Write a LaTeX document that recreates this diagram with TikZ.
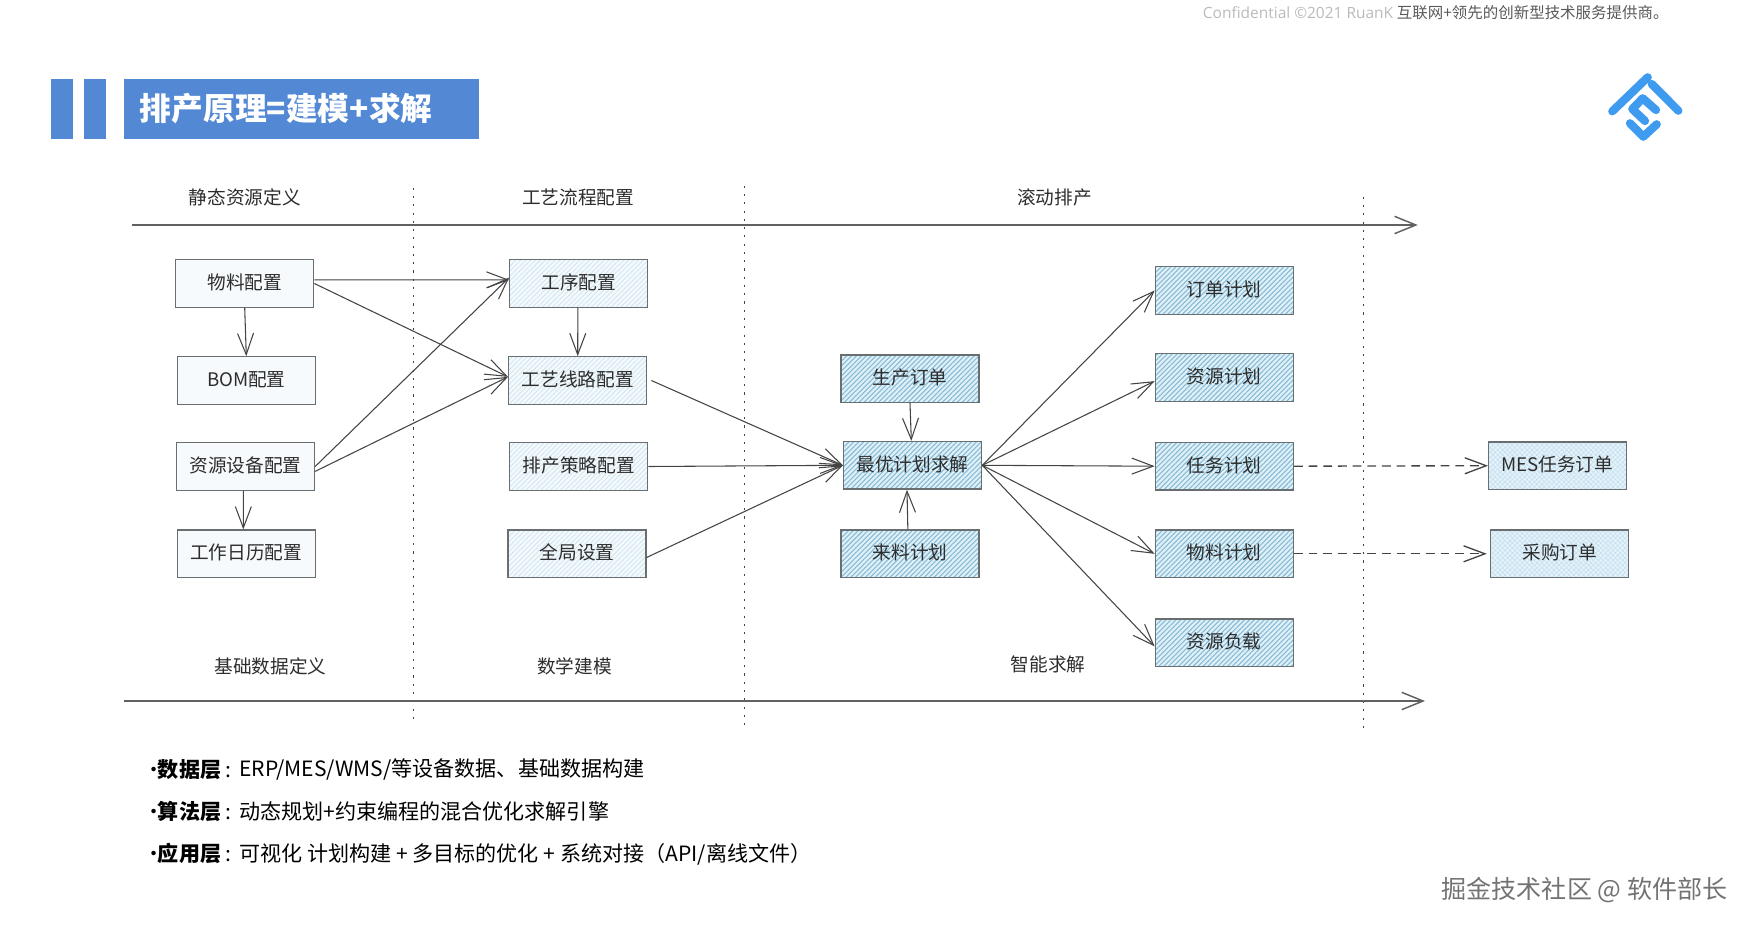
\documentclass[tikz,border=0pt]{standalone}
\usepackage{fontspec}
\setmainfont{Noto Sans CJK SC}
\newfontfamily\latinfont{Open Sans}
\usetikzlibrary{arrows.meta,patterns.meta}

\definecolor{barblue}{RGB}{82,136,212}
\definecolor{logoblue}{RGB}{62,155,240}
\definecolor{boxedge}{RGB}{105,110,112}
\definecolor{inkgrey}{RGB}{68,68,68}
\definecolor{textgrey}{RGB}{45,45,45}

\tikzset{
  cfgbox/.style={draw=boxedge,line width=1pt,minimum width=103.5pt,minimum height=35.6pt,inner sep=0pt,
    text height=12pt,text depth=3.2pt,text=textgrey,font=\fontsize{14}{16}\selectfont},
  plainbox/.style={cfgbox,fill={rgb,255:red,246;green,250;blue,252}},
  lighthatch/.style={cfgbox,preaction={fill={rgb,255:red,243;green,249;blue,252}},
    pattern={Lines[angle=45,distance=2.6pt,line width=0.6pt]},pattern color={rgb,255:red,210;green,229;blue,238}},
  darkhatch/.style={cfgbox,preaction={fill={rgb,255:red,222;green,240;blue,248}},
    pattern={Lines[angle=45,distance=2.6pt,line width=0.8pt]},pattern color={rgb,255:red,135;green,185;blue,212}},
  crosshatch/.style={cfgbox,preaction={fill={rgb,255:red,228;green,243;blue,251}},
    pattern={Hatch[angle=45,distance=2.6pt,line width=0.4pt]},pattern color={rgb,255:red,196;green,222;blue,236}},
  stagelabel/.style={text=textgrey,inner sep=0pt,font=\fontsize{14}{16}\selectfont},
  layerlabel/.style={anchor=west,inner sep=0pt,text=black,font=\fontsize{15.8}{18}\selectfont},
  flowarrow/.style={draw=inkgrey,line width=0.8pt,-{Straight Barb[length=16pt,width=12pt]}},
  dasharrow/.style={flowarrow,line width=1pt,dash pattern={on 6.6pt off 4.4pt}},
  axisarrow/.style={draw=black!62,line width=1.1pt,-{Straight Barb[length=16pt,width=13pt]}},
  dotline/.style={draw=inkgrey,line width=0.8pt,dash pattern={on 1.6pt off 4.6pt}},
  logostroke/.style={draw=logoblue,line width=6.2pt,line cap=round,line join=round}
}

\begin{document}
\begin{tikzpicture}[x=0.75pt,y=0.75pt,yscale=-1,xscale=1]
                  \useasboundingbox (0,0) rectangle (1752,928);

                  %Shape: Title bars
                  \fill [barblue] (50.8,79) rectangle (72.6,139.3);
                  \fill [barblue] (83.8,79) rectangle (106,139.3);
                  \node [anchor=west,fill=barblue,minimum width=266pt,minimum height=45.2pt,inner sep=0pt] (banner) at (124,109.2) {};
                  % Text Node
                  \node [anchor=west,inner sep=0pt,text=white,font=\fontsize{23.8}{26}\selectfont\bfseries] (title) at (139.7,108.6) {排产原理=建模+求解};

                  % Text Node
                  \node [anchor=west,inner sep=0pt,text=black!27,font=\fontsize{11.6}{14}\selectfont\latinfont] (confid) at (1202.7,12.7) {Confidential ©2021 RuanK};
                  % Text Node
                  \node [anchor=west,inner sep=0pt,text=black!65,font=\fontsize{11.6}{14}\selectfont] (slogan) at (1396.7,12.7) {互联网+领先的创新型技术服务提供商。};

                  %Shape: Logo
                  \draw [logostroke] (1612.3,111.3) -- (1647.7,77.3);
                  \draw [logostroke] (1651.7,84) -- (1678.3,110.7);
                  \draw [logostroke] (1656,110) -- (1642.7,98.3) -- (1632.3,109) -- (1645,121);
                  \draw [logostroke] (1630,123.3) -- (1643.3,136.7) -- (1656.7,124.3);

                  %Straight Lines: stage separators
                  \coordinate (septop1) at (413.4,187.7);
                  \coordinate (sepbot1) at (413.4,720.7);
                  \coordinate (septop2) at (744.7,185.7);
                  \coordinate (sepbot2) at (744.7,727);
                  \coordinate (septop3) at (1363,196.7);
                  \coordinate (sepbot3) at (1363,729.7);
                  \draw [dotline] (septop1) -- (sepbot1);
                  \draw [dotline] (septop2) -- (sepbot2);
                  \draw [dotline,line width=0.6pt] (septop3) -- (sepbot3);

                  %Straight Lines: axes
                  \coordinate (axistopa) at (132,225);
                  \coordinate (axistopb) at (1417.8,225);
                  \coordinate (axisbota) at (124,701);
                  \coordinate (axisbotb) at (1425,701);
                  \draw [axisarrow] (axistopa) -- (axistopb);
                  \draw [axisarrow] (axisbota) -- (axisbotb);

                  % Text Node
                  \node [stagelabel] (stagea) at (244.8,197.8) {静态资源定义};
                  \node [stagelabel] (stageb) at (578,197.8) {工艺流程配置};
                  \node [stagelabel] (stagec) at (1054.6,197.8) {滚动排产};
                  \node [stagelabel] (staged) at (270.6,666) {基础数据定义};
                  \node [stagelabel] (stagee) at (574.6,666) {数学建模};
                  \node [stagelabel] (stagef) at (1048,664.7) {智能求解};

                  %Shape: Resource boxes
                  \node [plainbox] (material) at (244.7,283.5) {物料配置};
                  \node [plainbox] (bom) at (246.3,380.5) {BOM配置};
                  \node [plainbox] (device) at (245.5,466.5) {资源设备配置};
                  \node [plainbox] (calendar) at (246.3,553.8) {工作日历配置};
                  %Shape: Process boxes
                  \node [lighthatch] (oper) at (578.7,283.5) {工序配置};
                  \node [lighthatch] (route) at (577.7,380.5) {工艺线路配置};
                  \node [lighthatch] (policy) at (578.7,466.5) {排产策略配置};
                  \node [lighthatch] (globalset) at (577,553.8) {全局设置};
                  %Shape: Solver boxes
                  \node [darkhatch] (prodorder) at (910,378.8) {生产订单};
                  \node [darkhatch] (solver) at (912.6,465.3) {最优计划求解};
                  \node [darkhatch] (incoming) at (910,553.8) {来料计划};
                  %Shape: Plan boxes
                  \node [darkhatch] (orderplan) at (1224.3,290.5) {订单计划};
                  \node [darkhatch] (resplan) at (1224.3,377.5) {资源计划};
                  \node [darkhatch] (taskplan) at (1224.3,466.2) {任务计划};
                  \node [darkhatch] (matplan) at (1224.3,553.8) {物料计划};
                  \node [darkhatch] (resload) at (1224.3,642.7) {资源负载};
                  %Shape: Output boxes
                  \node [crosshatch] (mesorder) at (1557.3,465.7) {MES任务订单};
                  \node [crosshatch] (purchase) at (1559.8,553.8) {采购订单};

                  %Straight Lines: resource flows
                  \draw [flowarrow] (material.3) -- (oper.177);
                  \draw [flowarrow] (material.east) -- (route.177);
                  \draw [flowarrow] (material.south) -- (bom.north);
                  \draw [flowarrow] (device.east) -- (oper.175);
                  \draw [flowarrow] (device.-4) -- (route.177);
                  \draw [flowarrow] (device.-95) -- (calendar.97);
                  \draw [flowarrow] (oper.-92) -- (route.north);

                  %Straight Lines: into the solver
                  \draw [flowarrow] ([xshift=3pt]route.east) -- (solver.west);
                  \draw [flowarrow] (policy.east) -- (solver.west);
                  \draw [flowarrow] (globalset.-3) -- (solver.west);
                  \draw [flowarrow] (prodorder.south) -- (solver.93);
                  \draw [flowarrow] (incoming.95) -- (solver.-103);

                  %Straight Lines: out of the solver
                  \draw [flowarrow] (solver.east) -- (orderplan.west);
                  \draw [flowarrow] (solver.east) -- (resplan.-177);
                  \draw [flowarrow] (solver.east) -- (taskplan.west);
                  \draw [flowarrow] (solver.east) -- (matplan.west);
                  \draw [flowarrow] (solver.east) -- (resload.-177);

                  %Straight Lines: dashed
                  \draw [dasharrow] (taskplan.east) -- (mesorder.west);
                  \draw [dasharrow] (matplan.east) -- ([xshift=-2.5pt]purchase.west);

                  % Text Node
                  \node [layerlabel] (layera) at (143.3,769.5) {•\kern-5pt{\bfseries 数据层}\kern3pt:};
                  \node [layerlabel] (bodya) at (239,769.5) {ERP/MES/WMS/等设备数据、基础数据构建};
                  % Text Node
                  \node [layerlabel] (layerb) at (143.3,811.9) {•\kern-5pt{\bfseries 算法层}\kern3pt:};
                  \node [layerlabel] (bodyb) at (239,811.9) {动态规划+约束编程的混合优化求解引擎};
                  % Text Node
                  \node [layerlabel] (layerc) at (143.3,853.9) {•\kern-5pt{\bfseries 应用层}\kern3pt:};
                  \node [layerlabel] (bodyc) at (239,853.9) {可视化 计划构建 + 多目标的优化 + 系统对接（API/离线文件）};

                  % Text Node
                  \node [anchor=west,inner sep=0pt,text=black!55,font=\fontsize{18.8}{22}\selectfont] (credit) at (1441.4,890.5) {掘金技术社区 @ 软件部长};
\end{tikzpicture}
\end{document}
